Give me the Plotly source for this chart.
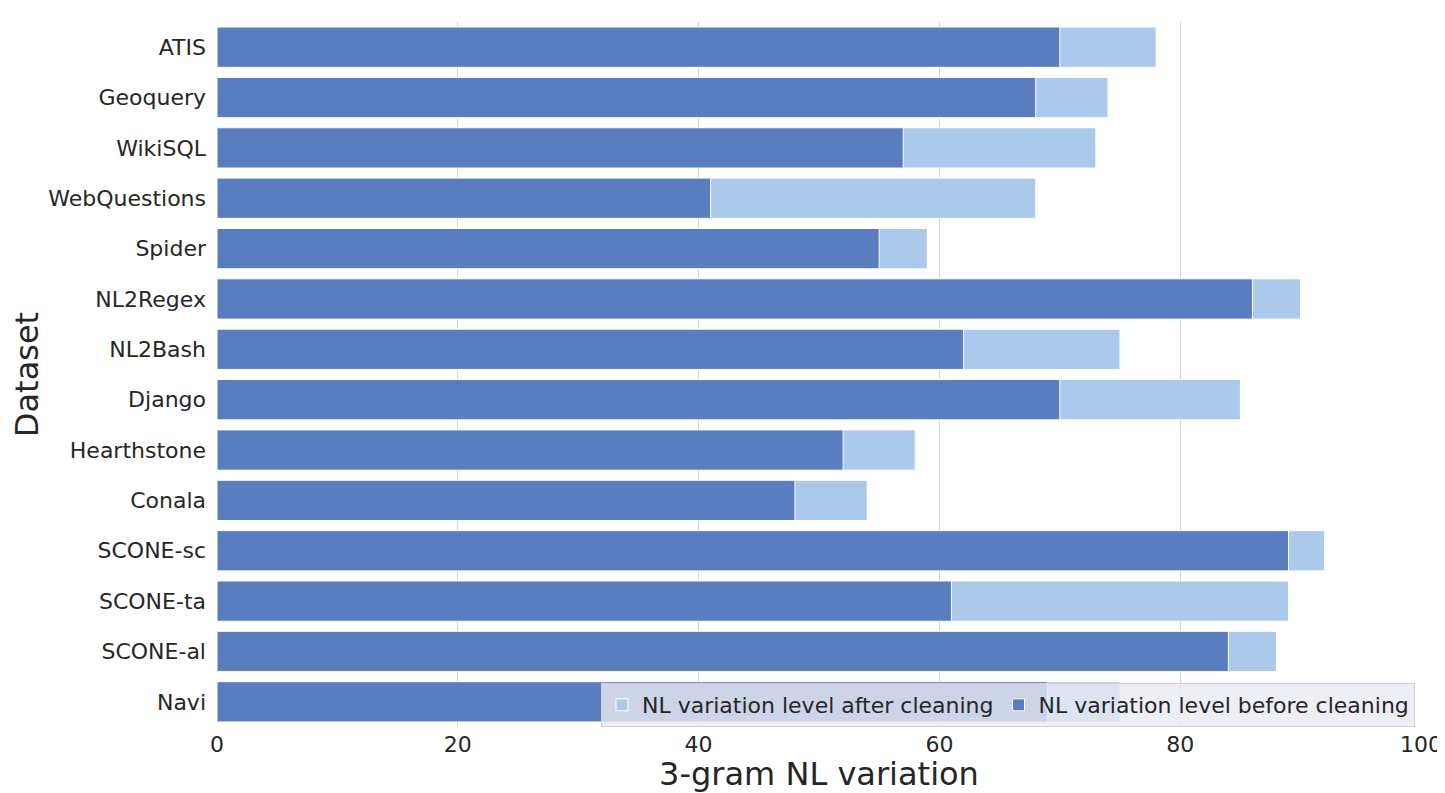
import plotly.graph_objects as go

datasets = ["ATIS", "Geoquery", "WikiSQL", "WebQuestions", "Spider", "NL2Regex", "NL2Bash",
            "Django", "Hearthstone", "Conala", "SCONE-sc", "SCONE-ta", "SCONE-al", "Navi"]
after_cleaning = [78, 74, 73, 68, 59, 90, 75, 85, 58, 54, 92, 89, 88, 75]
before_cleaning = [70, 68, 57, 41, 55, 86, 62, 70, 52, 48, 89, 61, 84, 69]

x_ticks = [0, 20, 40, 60, 80, 100]

FONT = "DejaVu Sans"
TXT = "#262626"

fig = go.Figure()
fig.add_trace(go.Bar(
    y=datasets, x=after_cleaning, orientation="h",
    name="NL variation level after cleaning",
    marker=dict(color="#abc9eb", line=dict(color="white", width=1)),
    width=0.8,
))
fig.add_trace(go.Bar(
    y=datasets, x=before_cleaning, orientation="h",
    name="NL variation level before cleaning",
    marker=dict(color="#5a7dbf", line=dict(color="white", width=1)),
    width=0.8,
))

fig.update_layout(
    width=1437, height=785,
    barmode="overlay",
    paper_bgcolor="white", plot_bgcolor="white",
    margin=dict(l=209, r=24, t=14, b=66, autoexpand=False),
    font=dict(family=FONT, color=TXT, size=22),
    legend=dict(
        orientation="h", x=0.995, xanchor="right", y=0.0, yanchor="bottom",
        bgcolor="rgba(234,234,242,0.8)", bordercolor="#d0d0d8", borderwidth=1,
        font=dict(family=FONT, size=22, color=TXT),
        traceorder="normal", itemwidth=30,
    ),
    xaxis=dict(
        range=[0, 100], tickvals=x_ticks, ticktext=[str(v) for v in x_ticks],
        showgrid=True, gridcolor="#d4d4d4", gridwidth=1, zeroline=False,
        showline=False, ticks="", tickfont=dict(size=22, color=TXT), automargin=False,
        ticklabelstandoff=2,
        title=dict(text="3-gram NL variation", font=dict(size=32, color=TXT), standoff=4),
    ),
    yaxis=dict(
        categoryorder="array", categoryarray=datasets, autorange="reversed",
        showgrid=False, zeroline=False, showline=False, ticks="", automargin=False,
        ticklabelstandoff=10, tickfont=dict(size=22, color=TXT),
        title=dict(text="Dataset", font=dict(size=32, color=TXT), standoff=2),
    ),
)

fig.write_html("out.html")
